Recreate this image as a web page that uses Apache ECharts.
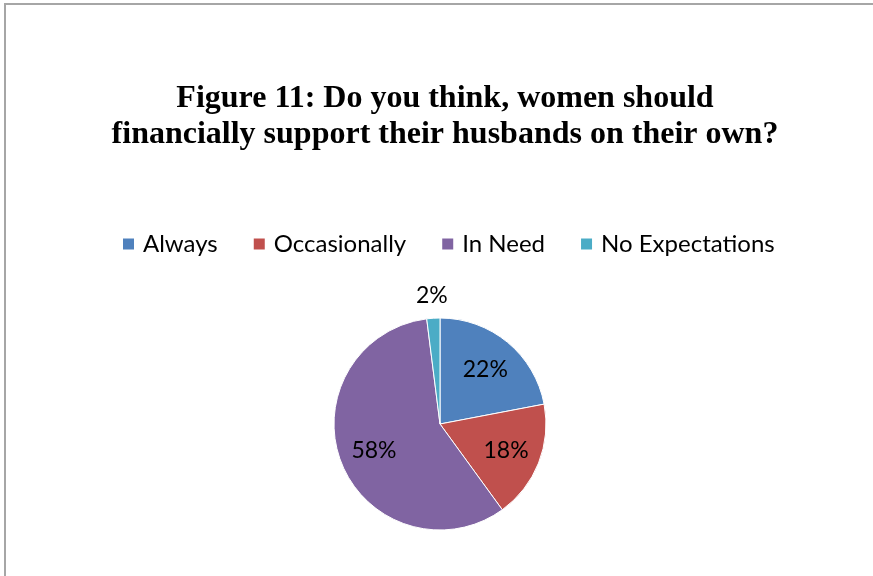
<!DOCTYPE html>
<html><head><meta charset="utf-8">
<script src="https://cdn.jsdelivr.net/npm/echarts@6/dist/echarts.min.js"></script>
<style>html,body{margin:0;padding:0;background:#fff}#c{width:873px;height:576px}</style>
</head><body><div id="c"></div>
<script>
const categories = ["Always", "Occasionally", "In Need", "No Expectations"];
const values = [22, 18, 58, 2];
const colors = ["#4F81BD", "#C0504D", "#8064A2", "#4BACC6"];
const titleText = "Figure 11: Do you think, women should\nfinancially support their husbands on their own?";
const outsideLabel = [false, false, false, true];

const chart = echarts.init(document.getElementById('c'), null, {renderer: 'canvas'});
const labelFont = {fontFamily: 'Lato', fontSize: 23, color: '#000'};
const mainData = categories.map((n, i) => ({
  name: n, value: values[i], itemStyle: {color: colors[i]}
}));
const innerLabelData = categories.map((n, i) => ({
  name: n, value: values[i], itemStyle: {color: 'rgba(0,0,0,0)'},
  label: {show: !outsideLabel[i]}
}));
const outerLabelData = categories.map((n, i) => ({
  name: n, value: values[i], itemStyle: {color: 'rgba(0,0,0,0)'},
  label: {show: outsideLabel[i]}
}));
const overlay = (radius, data) => ({
  type: 'pie', center: [440, 424], radius: radius, startAngle: 90, clockwise: true,
  data: data, silent: true, z: 3,
  itemStyle: {borderWidth: 0},
  label: Object.assign({position: 'inside', formatter: '{d}%'}, labelFont),
  labelLine: {show: false}
});
chart.setOption({
  animation: false,
  backgroundColor: '#fff',
  graphic: [{
    type: 'rect', shape: {x: 5, y: 4, width: 900, height: 600},
    style: {fill: 'none', stroke: '#a6a6a6', lineWidth: 2}, silent: true
  }],
  title: {
    text: titleText, left: 440, textAlign: 'center', top: 76,
    textStyle: {fontFamily: 'Liberation Serif', fontWeight: 'bold', fontSize: 32, lineHeight: 36, color: '#000'}
  },
  legend: {
    data: categories, top: 227, left: 116, itemWidth: 13, itemHeight: 13, itemGap: 34,
    icon: 'rect',
    textStyle: {fontFamily: 'Lato', fontSize: 24, color: '#000', padding: [0, 0, 0, 3]}
  },
  series: [{
    type: 'pie', center: [440, 424], radius: 106, startAngle: 90, clockwise: true,
    data: mainData,
    itemStyle: {borderColor: '#fff', borderWidth: 1},
    label: {show: false},
    labelLine: {show: false}
  },
  overlay([0, 136], innerLabelData),
  overlay([106, 146], outerLabelData)
  ]
});
</script></body></html>
